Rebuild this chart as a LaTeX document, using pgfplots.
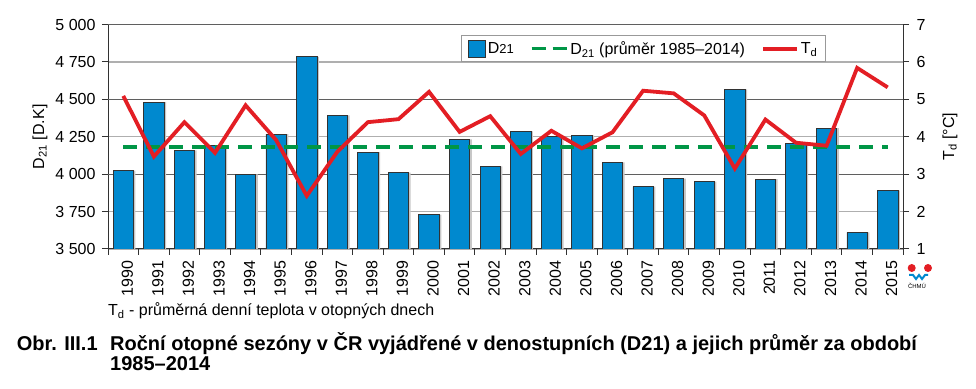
\documentclass[border=0pt]{standalone}
\usepackage{pgfplots}
\usepackage{pgfplotstable}
\pgfplotsset{compat=1.18}
\usepackage{fontspec}
\setmainfont{Liberation Sans}
\definecolor{barblue}{RGB}{0,137,207}
\definecolor{tdred}{RGB}{227,30,36}
\definecolor{avggreen}{RGB}{0,150,70}
\definecolor{gridlight}{RGB}{175,175,175}
\definecolor{griddark}{RGB}{95,95,95}
\definecolor{axisdark}{RGB}{50,50,50}

\pgfplotstableread{
x year D Td
0 1990 4023 5.09
1 1991 4481 3.47
2 1992 4159 4.39
3 1993 4190 3.57
4 1994 3999 4.84
5 1995 4268 3.91
6 1996 4784 2.42
7 1997 4392 3.60
8 1998 4148 4.39
9 1999 4010 4.47
10 2000 3729 5.20
11 2001 4232 4.13
12 2002 4052 4.55
13 2003 4286 3.54
14 2004 4254 4.16
15 2005 4259 3.69
16 2006 4079 4.12
17 2007 3916 5.23
18 2008 3970 5.16
19 2009 3950 4.57
20 2010 4566 3.15
21 2011 3967 4.46
22 2012 4208 3.84
23 2013 4308 3.76
24 2014 3611 5.84
25 2015 3892 5.32
}\datatable

\pgfplotsset{common/.style={
  scale only axis, width=795bp, height=224.5bp,
  at={(108bp,140bp)}, anchor=south west,
  xmin=-0.5, xmax=25.5,
  font=\fontsize{16bp}{19bp}\selectfont,
  /pgf/number format/assume math mode=true,
  tick align=outside,
  axis line style={axisdark, line width=1bp, -},
  tick style={axisdark, line width=1bp},
  major tick length=6bp, minor tick length=6bp,
}}

\begin{document}
\begin{tikzpicture}
\useasboundingbox (0,0) rectangle (976bp,389bp);
\begin{axis}[common,
  ymin=3500, ymax=5000,
  axis y line*=left, axis x line*=bottom,
  ytick={3500,3750,4000,4250,4500,4750,5000},
  yticklabels={3 500,3 750,4 000,4 250,4 500,4 750,5 000},
  yticklabel style={xshift=-3bp},
  ymajorgrids, major grid style={gridlight, line width=1.3bp},
  extra y ticks={4000,4500,5000},
  extra y tick labels={},
  extra y tick style={major grid style={griddark, line width=1bp}, major tick length=0pt},
  xtick={0,...,25},
  xticklabels={1990,1991,1992,1993,1994,1995,1996,1997,1998,1999,2000,2001,2002,2003,2004,2005,2006,2007,2008,2009,2010,2011,2012,2013,2014,2015},
  major x tick style={draw=none},
  minor xtick={-0.5,0.5,...,25.5},
  xticklabel style={rotate=90, anchor=east, yshift=-4bp, xshift=-2bp},
  ylabel={D\textsubscript{21} [D.K]},
  ylabel style={at={(axis description cs:-0.0855,0.5)}, anchor=center},
]
\addplot[ybar, bar width=20.4bp, bar shift=2bp, fill=black!22, draw=none] table[x=x,y=D]{\datatable};
\addplot[ybar, bar width=20.4bp, bar shift=0pt, fill=barblue, draw=axisdark, line width=0.8bp] table[x=x,y=D]{\datatable};
\addplot[avggreen, line width=3.5bp, dash pattern=on 14bp off 9bp] coordinates {(0,4183) (25,4183)};
\end{axis}
\begin{axis}[common,
  ymin=1, ymax=7,
  axis y line*=right, axis x line=none,
  ytick={1,2,3,4,5,6,7},
  yticklabel style={xshift=4bp},
  ylabel={T\textsubscript{d} [°C]},
  ylabel style={at={(axis description cs:1.059,0.5)}, anchor=center, rotate=0},
  legend columns=3,
  legend cell align=left,
  legend style={at={(0.903,0.953)}, anchor=north east, draw=gray!80, fill=white, line width=1bp,
    font=\fontsize{16bp}{19bp}\selectfont, inner xsep=6bp, inner ysep=4bp,
    /tikz/every even column/.append style={column sep=14bp}},
]
\addlegendimage{legend image code/.code={\draw[fill=barblue, draw=axisdark, line width=0.8bp] (0bp,-8.5bp) rectangle (17bp,8.5bp);}}
\addlegendentry{D{\fontsize{13bp}{13bp}\selectfont 21}}
\addlegendimage{legend image code/.code={\draw[avggreen, line width=3.5bp, dash pattern=on 14bp off 7bp] (0bp,0bp) -- (35bp,0bp);}}
\addlegendentry{D\textsubscript{21} (průměr 1985–2014)}
\addplot[tdred, line width=3.8bp, legend image code/.code={\draw[tdred, line width=3.8bp] (0bp,0bp) -- (34bp,0bp);}] table[x=x,y=Td]{\datatable};
\addlegendentry{T\textsubscript{d}}
\end{axis}
% CHMU logo
\fill[tdred] (911.7bp,121bp) circle (4bp);
\fill[tdred] (928bp,121bp) circle (4bp);
\draw[barblue, line width=2bp] (909bp,114bp) -- (913bp,114bp) -- (916bp,110bp) -- (919bp,114bp) -- (922bp,110bp) -- (925bp,114bp) -- (928bp,114bp);
\node[font=\fontsize{6bp}{7bp}\selectfont, inner sep=0pt] at (917bp,103bp) {ČHMÚ};
% notes
\node[anchor=base west, inner sep=0pt, font=\fontsize{16bp}{19bp}\selectfont] at (108bp,73bp) {T\textsubscript{d} - průměrná denní teplota v otopných dnech};
\node[anchor=base west, inner sep=0pt, font=\bfseries\fontsize{20bp}{24bp}\selectfont] at (16.7bp,39bp) {Obr. III.1};
\node[anchor=base west, inner sep=0pt, font=\bfseries\fontsize{20bp}{24bp}\selectfont] at (110bp,39bp) {Roční otopné sezóny v ČR vyjádřené v denostupních (D21) a jejich průměr za období};
\node[anchor=base west, inner sep=0pt, font=\bfseries\fontsize{20bp}{24bp}\selectfont] at (110bp,19bp) {1985–2014};
\end{tikzpicture}
\end{document}
